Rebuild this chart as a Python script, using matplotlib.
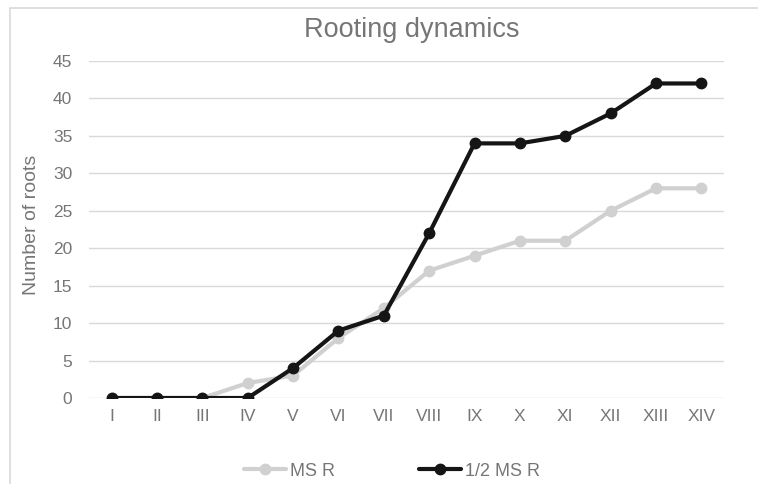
import numpy as np
import matplotlib
matplotlib.use('Agg')
import matplotlib.pyplot as plt
from matplotlib.patches import Rectangle

# rooting counts per observation stage
stages = ['I', 'II', 'III', 'IV', 'V', 'VI', 'VII', 'VIII', 'IX', 'X', 'XI', 'XII', 'XIII', 'XIV']
ms_r = [0, 0, 0, 2, 3, 8, 12, 17, 19, 21, 21, 25, 28, 28]
half_ms_r = [0, 0, 0, 0, 4, 9, 11, 22, 34, 34, 35, 38, 42, 42]
y_ticks = [0, 5, 10, 15, 20, 25, 30, 35, 40, 45]

plt.rcParams['font.family'] = ['Liberation Sans', 'DejaVu Sans']
text_col = '#767676'
grid_col = '#d9d9d9'

W, H = 758, 484
fig = plt.figure(figsize=(W / 100, H / 100), dpi=100)

# outer chart frame (runs past the right and bottom edges)
fig.patches.append(Rectangle((10 / W, -0.1), 1.2, 1.1 - 8 / H, transform=fig.transFigure,
                             fill=False, edgecolor=grid_col, linewidth=1.2))

ax = fig.add_axes([89 / W, 1 - 398 / H, (724 - 89) / W, (398 - 61) / H])
x = np.arange(len(stages))

ax.plot(x, ms_r, color='#d0d0d0', linewidth=3, marker='o', markersize=7.5,
        label='MS R', zorder=3, solid_capstyle='round')
ax.plot(x, half_ms_r, color='#151515', linewidth=3, marker='o', markersize=7.5,
        label='1/2 MS R', zorder=4, solid_capstyle='round')

ax.set_xlim(-0.5, len(stages) - 0.5)
ax.set_ylim(0, 45)
ax.set_yticks(y_ticks)
ax.set_xticks(x)
ax.set_xticklabels(stages)
ax.yaxis.grid(True, color=grid_col, linewidth=1)
ax.set_axisbelow(True)
for s in ax.spines.values():
    s.set_visible(False)
ax.tick_params(length=0, labelsize=12.5, colors=text_col)
ax.tick_params(axis='x', pad=8)
ax.tick_params(axis='y', pad=12)
for lab in ax.get_yticklabels() + ax.get_xticklabels():
    lab.set_clip_on(False)

fig.text(412 / W, 1 - 30 / H, 'Rooting dynamics', ha='center', va='center',
         fontsize=19.5, color=text_col)
fig.text(32 / W, 1 - 225 / H, 'Number of roots', ha='center', va='center',
         rotation=90, fontsize=14, color=text_col)

leg = fig.legend(loc='center', bbox_to_anchor=(392 / W, 1 - 471 / H), ncol=2, frameon=False,
                 fontsize=13, handlelength=2.3, handletextpad=0.2, columnspacing=4.7)
for t in leg.get_texts():
    t.set_color(text_col)

fig.savefig('out.png', dpi=100)
